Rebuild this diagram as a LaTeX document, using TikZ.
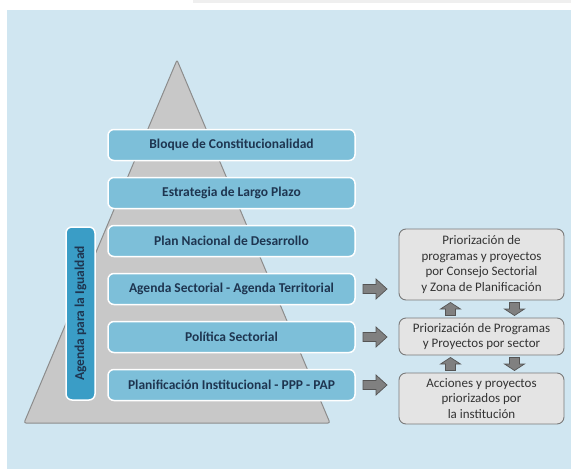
\documentclass[tikz,border=0pt]{standalone}
\usepackage{fontspec}
\setmainfont{Carlito}
\usetikzlibrary{calc}
\definecolor{bg}{HTML}{D0E6F1}
\definecolor{strip}{HTML}{EFEFEF}
\definecolor{trifill}{HTML}{C8C8C8}
\definecolor{triline}{HTML}{8C8C8C}
\definecolor{barfill}{HTML}{7DBFD9}
\definecolor{vbarfill}{HTML}{3A9DC6}
\definecolor{navy}{HTML}{1E3550}
\definecolor{boxfill}{HTML}{E4E4E4}
\definecolor{boxline}{HTML}{7A7A7A}
\definecolor{txtgray}{HTML}{333333}
\definecolor{arrfill}{HTML}{808080}
\definecolor{arrline}{HTML}{555555}
\tikzset{
  bar/.style={draw=white, line width=1.5pt, fill=barfill, rounded corners=6pt,
    minimum width=247pt, minimum height=31pt, inner sep=0pt,
    font=\fontsize{13.5}{15}\selectfont\bfseries, text=navy},
  vbar/.style={draw=white, line width=1.5pt, fill=vbarfill, rounded corners=6pt,
    minimum width=173pt, minimum height=29pt, inner sep=0pt, rotate=90,
    font=\fontsize{13.5}{15}\selectfont\bfseries, text=navy},
  rbox/.style={draw=boxline, line width=0.9pt, fill=boxfill, rounded corners=7pt,
    minimum width=165pt, inner sep=0pt, align=center,
    font=\fontsize{13}{15.5}\selectfont, text=txtgray},
  blockarr/.style={fill=arrfill, draw=arrline, line width=0.7pt, line join=miter},
  rarrow/.pic={\path[blockarr] (-12,-4.5) -- (1,-4.5) -- (1,-10) -- (12,0) -- (1,10) -- (1,4.5) -- (-12,4.5) -- cycle;},
  uarrow/.pic={\path[blockarr] (-5,6.5) -- (-5,0) -- (-10,0) -- (0,-6.5) -- (10,0) -- (5,0) -- (5,6.5) -- cycle;},
  darrow/.pic={\path[blockarr] (-5,-6.5) -- (-5,0) -- (-10,0) -- (0,6.5) -- (10,0) -- (5,0) -- (5,-6.5) -- cycle;}
}
\begin{document}
\begin{tikzpicture}[x=1pt,y=-1pt]
\useasboundingbox (0,0) rectangle (571,469);
\fill[white] (0,0) rectangle (571,469);
\fill[strip] (193,0) rectangle (571,3);
\fill[bg] (7,10) rectangle (571,469);
% pyramid
\draw[fill=trifill, draw=triline, line width=1pt, rounded corners=2pt]
  (177,60) -- (330,423) -- (24,423) -- cycle;
% bars
\node[bar] (b1) at (231.5,145) {Bloque de Constitucionalidad};
\node[bar] (b2) at (231.5,193) {Estrategia de Largo Plazo};
\node[bar] (b3) at (231.5,241) {Plan Nacional de Desarrollo};
\node[bar] (b4) at (231.5,289) {Agenda Sectorial - Agenda Territorial};
\node[bar] (b5) at (231.5,337) {Política Sectorial};
\node[bar] (b6) at (231.5,385) {Planificación Institucional - PPP - PAP};
\node[vbar] (ag) at (80.5,313.5) {Agenda para la Igualdad};
% right boxes
\node[rbox, minimum height=71pt] (r1) at (481.5,264.5) {Priorización de\\programas y proyectos\\por Consejo Sectorial\\y Zona de Planificación};
\node[rbox, minimum height=37pt] (r2) at (481.5,336.5) {Priorización de Programas\\y Proyectos por sector};
\node[rbox, minimum height=51pt] (r3) at (481.5,398.5) {Acciones y proyectos\\priorizados por\\la institución};
% block arrows
\pic at ($(b4.east)!0.45!(r1.west |- b4.east)$) {rarrow};
\pic at ($(b5.east)!0.45!(r2.west |- b5.east)$) {rarrow};
\pic at ($(b6.east)!0.45!(r3.west |- b6.east)$) {rarrow};
\coordinate (u1) at ($(r1.south)!0.5!(r2.north)$);
\coordinate (u2) at ($(r2.south)!0.5!(r3.north)$);
\pic at ($(u1)+(-31,0)$) {uarrow};
\pic at ($(u1)+(33,0)$) {darrow};
\pic at ($(u2)+(-31,0)$) {uarrow};
\pic at ($(u2)+(33,0)$) {darrow};
\end{tikzpicture}
\end{document}
